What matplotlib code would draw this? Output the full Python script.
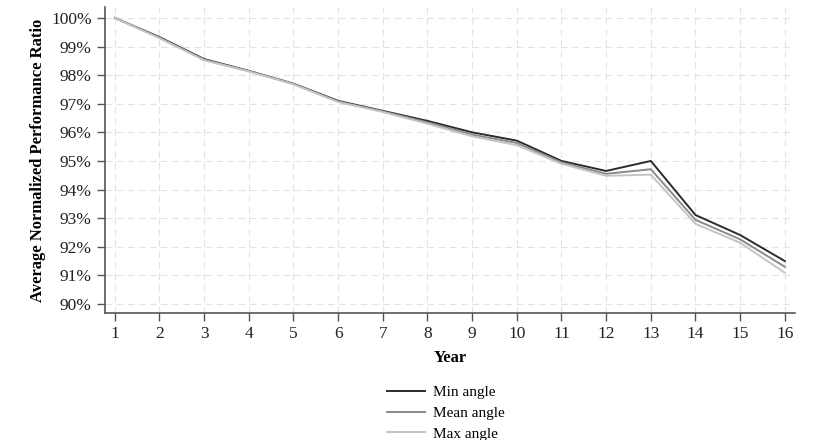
import matplotlib
matplotlib.use("Agg")
import matplotlib.pyplot as plt
from matplotlib.ticker import FuncFormatter, MultipleLocator

plt.rcParams['font.family'] = ['Liberation Serif', 'DejaVu Serif']

years = list(range(1, 17))
min_angle = [100.0, 99.33, 98.56, 98.15, 97.7, 97.1, 96.75, 96.4, 96.0, 95.71, 95.0, 94.65, 95.0, 93.11, 92.41, 91.5]
mean_angle = [100.0, 99.31, 98.54, 98.14, 97.69, 97.08, 96.73, 96.35, 95.92, 95.63, 94.95, 94.55, 94.71, 92.94, 92.26, 91.3]
max_angle = [100.0, 99.29, 98.52, 98.13, 97.68, 97.06, 96.71, 96.3, 95.86, 95.55, 94.9, 94.48, 94.52, 92.8, 92.14, 91.09]

fig = plt.figure(figsize=(8.4, 4.4), dpi=100)
ax = fig.add_axes([0.125, 0.289, 0.821, 0.695])

ax.plot(years, min_angle, color='#2b2b2b', lw=1.4, label='Min angle')
ax.plot(years, mean_angle, color='#8a8a8a', lw=1.4, label='Mean angle')
ax.plot(years, max_angle, color='#c4c4c4', lw=1.4, label='Max angle')

ax.set_xlim(0.78, 16.22)
ax.set_ylim(89.69, 100.38)
ax.set_xticks(years)
ax.yaxis.set_major_locator(MultipleLocator(1))
ax.yaxis.set_major_formatter(FuncFormatter(lambda v, p: '%d%%' % round(v)))

ax.grid(True, linestyle=(0, (6, 4)), color='#e3e3e3', lw=0.8)
ax.set_axisbelow(True)
for s in ['top', 'right']:
    ax.spines[s].set_visible(False)
for s in ['left', 'bottom']:
    ax.spines[s].set_color('#555555')
    ax.spines[s].set_linewidth(1.2)
ax.tick_params(direction='out', length=6, width=1, color='#555555', labelsize=12.5, labelcolor='#222222')

ax.set_xlabel('Year', fontsize=12, fontweight='bold', labelpad=6)
ax.set_ylabel('Average Normalized Performance Ratio', fontsize=12, fontweight='bold', labelpad=4)

fig.legend(loc='upper left', bbox_to_anchor=(373 / 840, 1 - 372 / 440), frameon=False,
           fontsize=11, handlelength=2.5, labelspacing=0.45, handletextpad=0.5)

fig.savefig('out.png', dpi=100)
